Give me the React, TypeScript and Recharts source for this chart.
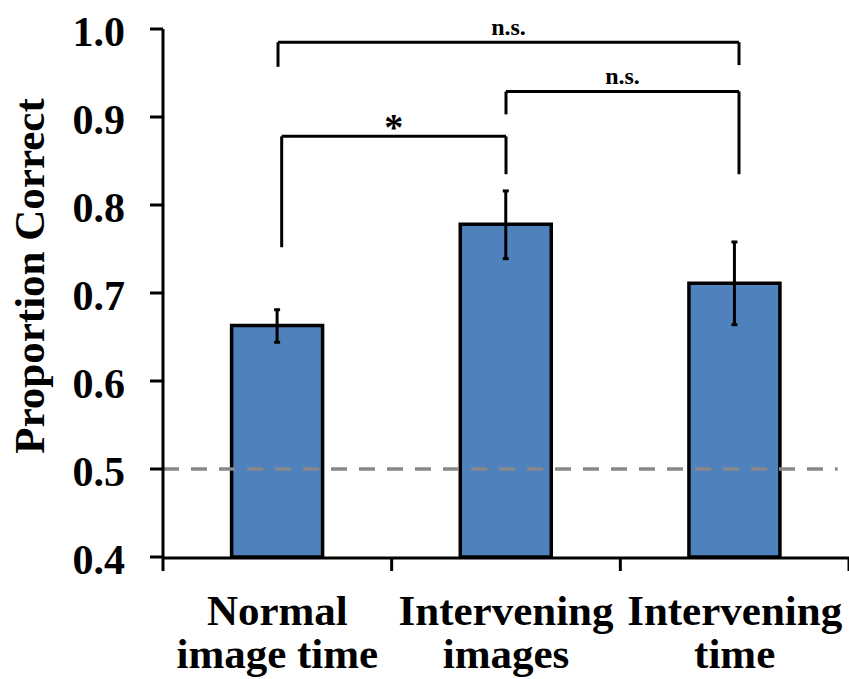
import React from 'react';
import {
  BarChart, Bar, XAxis, YAxis, ErrorBar, ReferenceLine,
} from 'recharts';

const categories = ['Normal\nimage time', 'Intervening\nimages', 'Intervening\ntime'];
const proportions = [0.663, 0.778, 0.711];
const errLow = [0.019, 0.039, 0.047];
const errHigh = [0.018, 0.038, 0.047];
const yTicks = [0.4, 0.5, 0.6, 0.7, 0.8, 0.9, 1.0];
const boundaryTicks = [0, 1, 2, 3];
const chanceLevel = 0.5;

// significance brackets: x in category-index units, y in proportion units
const brackets = [
  { x1: 0.503, x2: 2.519, y: 0.985, leftEnd: 0.957, rightEnd: 0.959, label: 'n.s.' },
  { x1: 1.5, x2: 2.519, y: 0.929, leftEnd: 0.903, rightEnd: 0.835, label: 'n.s.' },
  { x1: 0.519, x2: 1.5, y: 0.878, leftEnd: 0.752, rightEnd: 0.835, label: '*' },
];

const data = categories.map((name, i) => ({
  name,
  pos: i + 0.5,
  value: proportions[i],
  err: [errLow[i], errHigh[i]],
}));

const FONT = '"Liberation Serif", "Times New Roman", serif';
const NUM = 'a_edges';
const CAT = 'b_groups';

function CategoryTick(props: any) {
  const { x, y, payload } = props;
  const lines = String(payload.value).split('\n');
  return (
    <g>
      {lines.map((line, i) => (
        <text
          key={i}
          x={x}
          y={y + 67 + i * 43}
          textAnchor="middle"
          fontFamily={FONT}
          fontWeight="bold"
          fontSize={43}
          fill="#000"
        >
          {line}
        </text>
      ))}
    </g>
  );
}

function YTitle() {
  return (
    <text
      x={0}
      y={0}
      transform="translate(44, 276) rotate(-90)"
      textAnchor="middle"
      fontFamily={FONT}
      fontWeight="bold"
      fontSize={43}
      fill="#000"
    >
      Proportion Correct
    </text>
  );
}

function SigLabel(props: any) {
  const { viewBox, value } = props;
  const star = value === '*';
  const cx = viewBox.x + viewBox.width / 2;
  return (
    <text
      x={cx}
      y={viewBox.y - (star ? -4 : 7)}
      textAnchor="middle"
      fontFamily={FONT}
      fontWeight="bold"
      fontSize={star ? 38 : 24}
      fill="#000"
    >
      {value}
    </text>
  );
}

export default function App() {
  return (
    <div style={{ position: 'absolute', left: 0, top: 0, width: 849, height: 679, background: '#fff' }}>
      <BarChart
        width={849}
        height={679}
        data={data}
        margin={{ top: 29, right: 0, left: 23, bottom: 11 }}
        barCategoryGap="30%"
      >
        <XAxis
          xAxisId={NUM}
          dataKey="pos"
          type="number"
          domain={[0, 3]}
          ticks={boundaryTicks}
          height={1}
          axisLine={false}
          tickLine={{ stroke: '#000', strokeWidth: 3 }}
          tickSize={14}
          tick={() => <g />}
          allowDataOverflow
        />
        <XAxis
          xAxisId={CAT}
          dataKey="name"
          height={110}
          axisLine={{ stroke: '#000', strokeWidth: 3 }}
          tickLine={false}
          tickSize={0}
          tickMargin={0}
          tick={<CategoryTick />}
          interval={0}
        />
        <YAxis
          domain={[0.4, 1.0]}
          ticks={yTicks}
          width={140}
          tickFormatter={(v: number) => v.toFixed(1)}
          axisLine={{ stroke: '#000', strokeWidth: 3 }}
          tickLine={{ stroke: '#000', strokeWidth: 3 }}
          tickSize={13}
          tickMargin={25}
          tick={{ fontFamily: FONT, fontWeight: 'bold', fontSize: 42, fill: '#000', dy: 2 }}
          label={{ content: () => <YTitle /> }}
          allowDataOverflow
        />
        <Bar
          xAxisId={CAT}
          dataKey="value"
          fill="#4F81BD"
          stroke="#000"
          strokeWidth={3.5}
          isAnimationActive={false}
        >
          <ErrorBar dataKey="err" width={3} stroke="#000" strokeWidth={3} direction="y" />
        </Bar>
        <ReferenceLine
          xAxisId={NUM}
          segment={[{ x: 0, y: chanceLevel }, { x: 2.95, y: chanceLevel }]}
          stroke="#888888"
          strokeWidth={3.5}
          strokeDasharray="16 12"
        />
        {brackets.map((b, i) => (
          <ReferenceLine
            key={`h${i}`}
            xAxisId={NUM}
            segment={[{ x: b.x1, y: b.y }, { x: b.x2, y: b.y }]}
            stroke="#000"
            strokeWidth={3}
            label={<SigLabel value={b.label} />}
          />
        ))}
        {brackets.map((b, i) => (
          <ReferenceLine
            key={`l${i}`}
            xAxisId={NUM}
            segment={[{ x: b.x1, y: b.y }, { x: b.x1, y: b.leftEnd }]}
            stroke="#000"
            strokeWidth={3}
          />
        ))}
        {brackets.map((b, i) => (
          <ReferenceLine
            key={`r${i}`}
            xAxisId={NUM}
            segment={[{ x: b.x2, y: b.y }, { x: b.x2, y: b.rightEnd }]}
            stroke="#000"
            strokeWidth={3}
          />
        ))}
      </BarChart>
    </div>
  );
}
